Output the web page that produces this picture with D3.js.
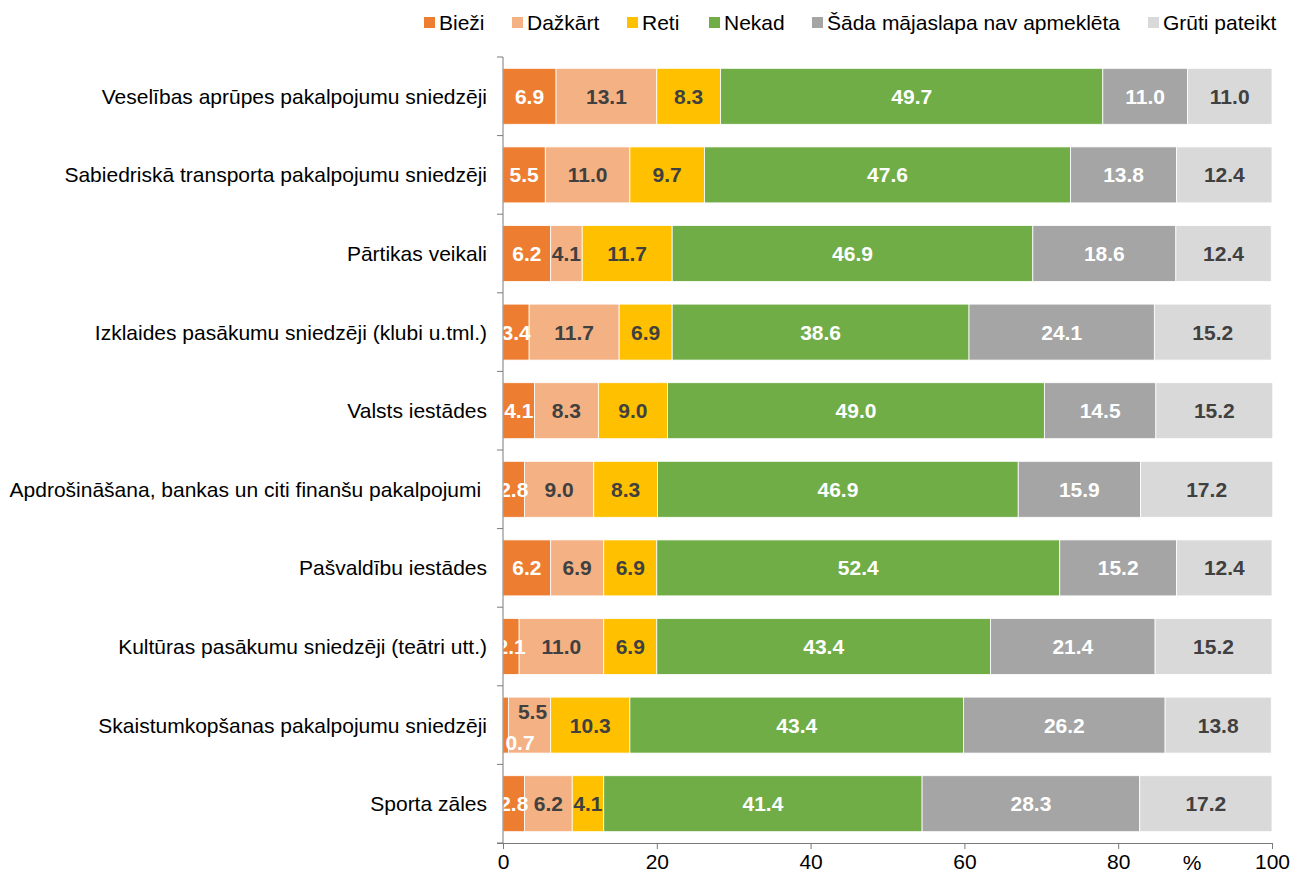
<!DOCTYPE html>
<html>
<head>
<meta charset="utf-8">
<script src="https://cdn.jsdelivr.net/npm/d3@7"></script>
<style>
  body { margin: 0; background: #fff; }
  text { font-family: "Liberation Sans", Arial, sans-serif; }
</style>
</head>
<body>
<div id="chart"></div>
<script>
const categories = [
    "Veselības aprūpes pakalpojumu sniedzēji",
    "Sabiedriskā transporta pakalpojumu sniedzēji",
    "Pārtikas veikali",
    "Izklaides pasākumu sniedzēji (klubi u.tml.)",
    "Valsts iestādes",
    "Apdrošināšana, bankas un citi finanšu pakalpojumi\u00a0",
    "Pašvaldību iestādes",
    "Kultūras pasākumu sniedzēji (teātri utt.)",
    "Skaistumkopšanas pakalpojumu sniedzēji",
    "Sporta zāles"
];
const seriesNames = ["Bieži", "Dažkārt", "Reti", "Nekad", "Šāda mājaslapa nav apmeklēta", "Grūti pateikt"];
const biezi   = [6.9, 5.5, 6.2, 3.4, 4.1, 2.8, 6.2, 2.1, 0.7, 2.8];
const dazkart = [13.1, 11.0, 4.1, 11.7, 8.3, 9.0, 6.9, 11.0, 5.5, 6.2];
const reti    = [8.3, 9.7, 11.7, 6.9, 9.0, 8.3, 6.9, 6.9, 10.3, 4.1];
const nekad   = [49.7, 47.6, 46.9, 38.6, 49.0, 46.9, 52.4, 43.4, 43.4, 41.4];
const sada    = [11.0, 13.8, 18.6, 24.1, 14.5, 15.9, 15.2, 21.4, 26.2, 28.3];
const gruti   = [11.0, 12.4, 12.4, 15.2, 15.2, 17.2, 12.4, 15.2, 13.8, 17.2];
const xTicks = [0, 20, 40, 60, 80, 100];

const colors = ["#ED7D31", "#F4B183", "#FFC000", "#70AD47", "#A5A5A5", "#D9D9D9"];
const labelColors = ["#fff", "#404040", "#404040", "#fff", "#fff", "#404040"];

const width = 1291, height = 876;
const margin = {left: 503, right: 19, top: 57, bottom: 33};
const fs = 21;

const rows = categories.map((c, i) => {
    const vals = [biezi[i], dazkart[i], reti[i], nekad[i], sada[i], gruti[i]];
    const r = {cat: c};
    seriesNames.forEach((s, j) => r[s] = vals[j]);
    return r;
});

const stack = d3.stack().keys(seriesNames)(rows);

const svg = d3.select("#chart").append("svg")
    .attr("width", width)
    .attr("height", height);

const x = d3.scaleLinear().domain([0, 100]).range([margin.left, width - margin.right]);
const y = d3.scaleBand().domain(categories)
    .range([margin.top, height - margin.bottom])
    .paddingInner(0.288).paddingOuter(0.144);

// bars
const layers = svg.selectAll("g.layer")
    .data(stack)
    .enter().append("g")
    .attr("class", "layer")
    .attr("fill", (d, i) => colors[i]);

layers.selectAll("rect")
    .data(d => d)
    .enter().append("rect")
    .attr("x", d => x(d[0]))
    .attr("y", d => y(d.data.cat))
    .attr("width", d => x(d[1]) - x(d[0]))
    .attr("height", y.bandwidth())
    .attr("stroke", "#fff")
    .attr("stroke-width", 0.8);

// labels
stack.forEach((layer, j) => {
    layer.forEach((d, i) => {
        const v = d[1] - d[0];
        let cx = x((d[0] + d[1]) / 2);
        let cy = y(d.data.cat) + y.bandwidth() / 2;
        // tiny first segment: label pushed down, next label pushed up
        if (j === 0 && v < 1) { cx = x(0) + 17; cy += 17; }
        if (j === 1 && stack[0][i][1] - stack[0][i][0] < 1) { cx += 3; cy -= 14; }
        svg.append("text")
            .attr("x", cx)
            .attr("y", cy)
            .attr("dy", "0.36em")
            .attr("text-anchor", "middle")
            .attr("font-size", fs)
            .attr("font-weight", "bold")
            .attr("fill", labelColors[j])
            .text(d3.format(".1f")(v));
    });
});

// y axis
const axisColor = "#7a7a7a";
svg.append("line")
    .attr("x1", margin.left).attr("x2", margin.left)
    .attr("y1", margin.top).attr("y2", height - margin.bottom)
    .attr("stroke", axisColor);
const bounds = d3.range(categories.length + 1).map(i => margin.top + i * y.step());
svg.selectAll("line.ytick")
    .data(bounds)
    .enter().append("line")
    .attr("class", "ytick")
    .attr("x1", margin.left - 6).attr("x2", margin.left)
    .attr("y1", d => d).attr("y2", d => d)
    .attr("stroke", axisColor);
svg.selectAll("text.cat")
    .data(categories)
    .enter().append("text")
    .attr("class", "cat")
    .attr("x", margin.left - 16)
    .attr("y", d => y(d) + y.bandwidth() / 2)
    .attr("dy", "0.36em")
    .attr("text-anchor", "end")
    .attr("font-size", fs)
    .attr("fill", "#000")
    .style("white-space", "pre")
    .text(d => d);

// x axis
const xg = svg.append("g")
    .attr("transform", `translate(0,${height - margin.bottom})`)
    .call(d3.axisBottom(x).tickValues(xTicks).tickSize(6).tickPadding(5).tickSizeOuter(0));
xg.select(".domain").attr("stroke", axisColor).attr("d", `M${margin.left - 6},0.5H${x(100)}`);
xg.selectAll(".tick line").attr("stroke", axisColor);
xg.selectAll(".tick text")
    .attr("font-size", fs)
    .attr("font-family", "Liberation Sans, Arial, sans-serif")
    .attr("fill", "#000");

svg.append("text")
    .attr("x", 1192)
    .attr("y", 862)
    .attr("dy", "0.36em")
    .attr("text-anchor", "middle")
    .attr("font-size", fs)
    .text("%");

// legend
const legendX = [424, 512, 627, 709, 812, 1148];
const legend = svg.append("g");
seriesNames.forEach((s, i) => {
    legend.append("rect")
        .attr("x", legendX[i]).attr("y", 17)
        .attr("width", 11).attr("height", 11)
        .attr("fill", colors[i]);
    legend.append("text")
        .attr("x", legendX[i] + 15).attr("y", 22)
        .attr("dy", "0.36em")
        .attr("font-size", fs)
        .attr("fill", "#000")
        .text(s);
});
</script>
</body>
</html>
